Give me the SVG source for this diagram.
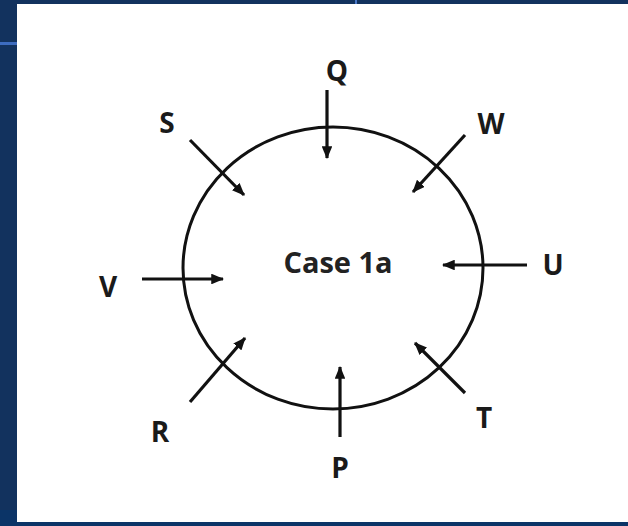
<svg xmlns="http://www.w3.org/2000/svg" width="628" height="526" viewBox="0 0 628 526">
<style>
.lbl{font-family:"Open Sans","Liberation Sans",sans-serif;font-weight:bold;font-size:28px;fill:#1a1a1a;text-anchor:middle}
.big{font-family:"Open Sans","Liberation Sans",sans-serif;font-weight:bold;font-size:29px;fill:#222;text-anchor:middle}
.arr{stroke:#111;stroke-width:3.2;fill:none;marker-end:url(#ah)}
</style>
<defs>
<marker id="ah" viewBox="0 0 12 10" refX="11" refY="5" markerWidth="4" markerHeight="3.4" orient="auto" markerUnits="strokeWidth">
<path d="M0,0 L12,5 L0,10 Z" fill="#111"/>
</marker>
</defs>
<rect x="0" y="0" width="628" height="526" fill="#12325e"/>
<rect x="0" y="510" width="628" height="16" fill="#0b3467"/>
<rect x="0" y="42" width="17" height="3" fill="#3d6cbf"/>
<rect x="355" y="0" width="2" height="4" fill="#4a78c8"/>
<rect x="17" y="4" width="611" height="518" fill="#ffffff"/>
<g id="case1a">
<ellipse cx="333" cy="268" rx="150" ry="141" fill="none" stroke="#111" stroke-width="3"/>
<text class="big" x="338" y="273">Case 1a</text>
</g>
<g id="Q"><text class="lbl" x="337" y="81">Q</text></g>
<g id="S"><text class="lbl" x="167" y="133">S</text></g>
<g id="W"><text class="lbl" x="491" y="134">W</text></g>
<g id="V"><text class="lbl" x="108" y="297">V</text></g>
<g id="U"><text class="lbl" x="553" y="275">U</text></g>
<g id="R"><text class="lbl" x="160" y="442">R</text></g>
<g id="T"><text class="lbl" x="484" y="428">T</text></g>
<g id="P"><text class="lbl" x="340" y="478">P</text></g>
<g id="connectors">
<line class="arr" x1="327" y1="90" x2="327" y2="158"/>
<line class="arr" x1="190" y1="140" x2="244" y2="195"/>
<line class="arr" x1="465" y1="135" x2="413" y2="192"/>
<line class="arr" x1="142" y1="279" x2="223" y2="279"/>
<line class="arr" x1="527" y1="265" x2="443" y2="265"/>
<line class="arr" x1="190" y1="402" x2="245" y2="338"/>
<line class="arr" x1="340" y1="437" x2="340" y2="367"/>
<line class="arr" x1="465" y1="393" x2="415" y2="343"/>
</g>
</svg>
